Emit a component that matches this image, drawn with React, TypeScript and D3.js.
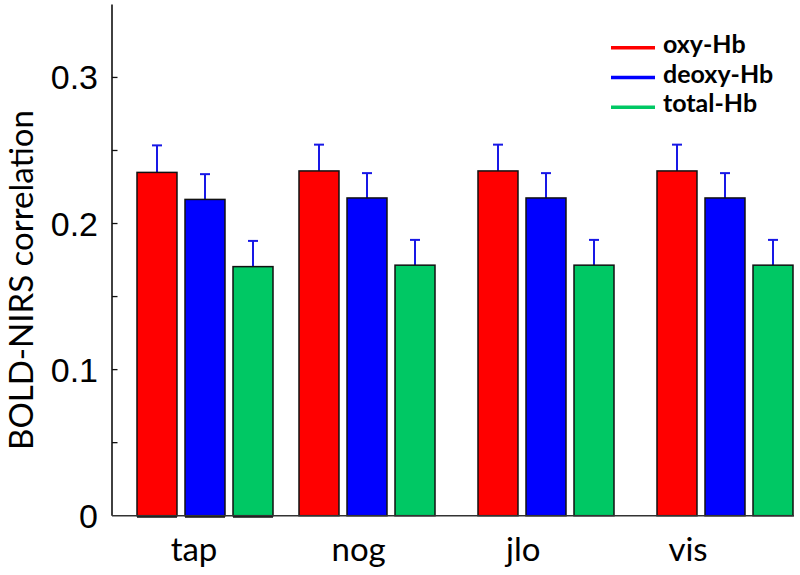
import React from "react";
import * as d3 from "d3";

const categories = ["tap", "nog", "jlo", "vis"];
const seriesNames = ["oxy-Hb", "deoxy-Hb", "total-Hb"];
const seriesColors = ["#ff0000", "#0000ff", "#00c864"];
const oxyValues = [0.235, 0.236, 0.236, 0.236];
const deoxyValues = [0.2165, 0.2175, 0.2175, 0.2175];
const totalValues = [0.1705, 0.1715, 0.1715, 0.1715];
const oxyErrors = [0.0185, 0.018, 0.018, 0.018];
const deoxyErrors = [0.0173, 0.017, 0.017, 0.017];
const totalErrors = [0.0176, 0.0173, 0.0173, 0.0173];
const majorTicks = [0, 0.1, 0.2, 0.3];
const tickLabels = ["0", "0.1", "0.2", "0.3"];
const yAxisLabel = "BOLD-NIRS correlation";

const values = [oxyValues, deoxyValues, totalValues];
const errors = [oxyErrors, deoxyErrors, totalErrors];

export default function App() {
  const W = 800;
  const H = 575;
  const axisX = 112;
  const axisRight = 794;
  const y = d3.scaleLinear().domain([0, 0.35]).range([515.7, 4.4]);
  // group positions (figure has slightly uneven group spacing)
  const gx = d3.scaleLinear().domain([0, 1, 3]).range([137, 299, 657]);
  // category labels are evenly spaced, independent of bars
  const lx = d3.scalePoint<string>().domain(categories).range([194, 688]);
  const inner = d3
    .scaleBand<string>()
    .domain(seriesNames)
    .range([0, 136])
    .paddingInner(0.167)
    .paddingOuter(0);
  const bw = inner.bandwidth();
  const minorTicks = d3.range(0, 0.35, 0.05).filter((t) => t > 0.001);
  const y0 = y(0);
  const labelFont = "Lato, 'Open Sans', sans-serif";

  return (
    <svg
      width={W}
      height={H}
      style={{ position: "absolute", left: 0, top: 0, background: "#fff" }}
    >
      <rect x={0} y={0} width={W} height={H} fill="#fff" />
      {/* bars */}
      {categories.map((cat, ci) => (
        <g key={cat} transform={`translate(${gx(ci)},0)`}>
          {seriesNames.map((s, si) => {
            const v = values[si][ci];
            const e = errors[si][ci];
            const bx = inner(s) as number;
            const cx = bx + bw / 2;
            return (
              <g key={s}>
                <line
                  x1={cx}
                  x2={cx}
                  y1={y(v)}
                  y2={y(v + e)}
                  stroke="#1818e6"
                  strokeWidth={2}
                />
                <line
                  x1={cx - 5}
                  x2={cx + 5}
                  y1={y(v + e)}
                  y2={y(v + e)}
                  stroke="#1818e6"
                  strokeWidth={2}
                />
                <rect
                  x={bx}
                  y={y(v)}
                  width={bw}
                  height={y0 - y(v)}
                  fill={seriesColors[si]}
                  stroke="#111"
                  strokeWidth={1.5}
                />
                {ci === 0 && (
                  <line
                    x1={bx}
                    x2={bx + bw}
                    y1={y0 + 0.8}
                    y2={y0 + 0.8}
                    stroke="#111"
                    strokeWidth={2.5}
                  />
                )}
              </g>
            );
          })}
        </g>
      ))}
      {categories.map((cat) => (
        <text
          key={cat}
          x={lx(cat)}
          y={561}
          textAnchor="middle"
          fontFamily={labelFont}
          fontSize={33}
          fill="#000"
        >
          {cat}
        </text>
      ))}
      {/* axes */}
      <line x1={axisX} x2={axisX} y1={y(0.35)} y2={y0} stroke="#111" strokeWidth={1.6} />
      <line x1={axisX} x2={axisRight} y1={y0} y2={y0} stroke="#333" strokeWidth={1.6} />
      {minorTicks.map((t) => (
        <line
          key={t}
          x1={axisX}
          x2={axisX + 5.5}
          y1={y(t)}
          y2={y(t)}
          stroke="#111"
          strokeWidth={1.3}
        />
      ))}
      {majorTicks.map((t, i) => (
        <text
          key={t}
          x={98}
          y={y(t) + 12}
          textAnchor="end"
          fontFamily="'Liberation Sans', Arial, sans-serif"
          fontSize={34}
          fill="#000"
        >
          {tickLabels[i]}
        </text>
      ))}
      <text
        transform={`translate(33,280) rotate(-90)`}
        textAnchor="middle"
        fontFamily={labelFont}
        fontSize={33}
        fill="#000"
      >
        {yAxisLabel}
      </text>
      {/* legend */}
      {seriesNames.map((s, i) => {
        const ly = 47.7 + i * 29.8;
        return (
          <g key={s}>
            <line
              x1={611}
              x2={655}
              y1={ly}
              y2={ly}
              stroke={seriesColors[i]}
              strokeWidth={3.5}
            />
            <text
              x={663}
              y={ly + 5}
              fontFamily={labelFont}
              fontWeight="bold"
              fontSize={25}
              fill="#000"
            >
              {s}
            </text>
          </g>
        );
      })}
    </svg>
  );
}
